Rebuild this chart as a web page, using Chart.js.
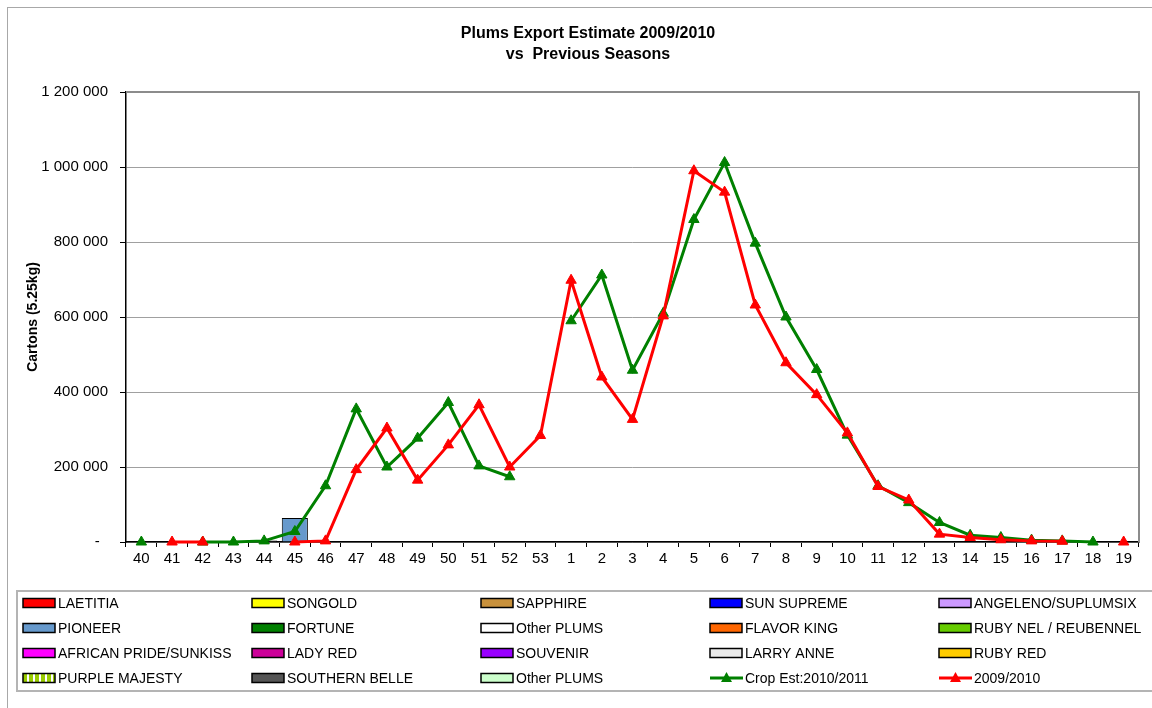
<!DOCTYPE html>
<html>
<head>
<meta charset="utf-8">
<script src="https://cdn.jsdelivr.net/npm/chart.js@4.4.1/dist/chart.umd.min.js"></script>
<style>
  html, body { margin: 0; padding: 0; background: #fff; }
  canvas { display: block; }
</style>
</head>
<body>
<canvas id="myChart" width="1152" height="708" style="width:1152px;height:708px"></canvas>
<script>
// week numbers on the x axis
var weeks = ['40', '41', '42', '43', '44', '45', '46', '47', '48', '49', '50', '51', '52', '53',
  '1', '2', '3', '4', '5', '6', '7', '8', '9', '10', '11', '12', '13', '14', '15', '16', '17', '18', '19'];

// Crop Est:2010/2011 (cartons)
var cropEst = [0, null, 0, 0, 3000, 28000, 150000, 355000, 200000, 277000, 372000, 203000, 174000, null,
  590000, 712000, 458000, 610000, 860000, 1012000, 797000, 600000, 460000, 285000, 150000, 105000,
  52000, 18000, 12000, 5000, 3000, 0, null];

// 2009/2010 (cartons)
var season0910 = [null, 0, 0, null, null, 0, 3000, 193000, 304000, 165000, 259000, 366000, 200000, 284000,
  698000, 440000, 327000, 603000, 990000, 933000, 632000, 478000, 393000, 291000, 148000, 112000,
  21000, 12000, 6000, 3000, 2000, null, 0];

// variety bars (only two carry values)
var pioneer = [null, null, null, null, null, 64000, null, null, null, null, null, null, null, null,
  null, null, null, null, null, null, null, null, null, null, null, null, null, null, null, null, null, null, null];
var southernBelle = [null, null, null, null, 4000, null, null, null, null, null, null, null, null, null,
  null, null, null, null, null, null, null, null, null, null, null, null, null, null, null, null, null, null, null];

var varieties = ['LAETITIA', 'SONGOLD', 'SAPPHIRE', 'SUN SUPREME', 'ANGELENO/SUPLUMSIX',
  'PIONEER', 'FORTUNE', 'Other PLUMS', 'FLAVOR KING', 'RUBY NEL / REUBENNEL',
  'AFRICAN PRIDE/SUNKISS', 'LADY RED', 'SOUVENIR', 'LARRY ANNE', 'RUBY RED',
  'PURPLE MAJESTY', 'SOUTHERN BELLE', 'Other PLUMS'];
var varietyValues = { 'PIONEER': pioneer, 'SOUTHERN BELLE': southernBelle };

// purple majesty gets a striped fill
var pc = document.createElement('canvas');
pc.width = 6; pc.height = 10;
var pctx = pc.getContext('2d');
pctx.fillStyle = '#99cc00'; pctx.fillRect(0, 0, 6, 10);
pctx.fillStyle = '#ffffff'; pctx.fillRect(3, 0, 2, 10);
var stripes = pctx.createPattern(pc, 'repeat');

var varietyColors = ['#ff0000', '#ffff00', '#c8913c', '#0000ff', '#cc99ff',
  '#6699cc', '#008000', '#ffffff', '#ff6600', '#66cc00',
  '#ff00ff', '#cc0099', '#9900ff', '#eaeaea', '#ffcc00',
  stripes, '#555555', '#ccffcc'];

var FONT = '"Liberation Sans", Arial, sans-serif';

var datasets = varieties.map(function (name, i) {
  return {
    type: 'bar',
    label: name,
    data: varietyValues[name] || [],
    backgroundColor: varietyColors[i],
    borderColor: '#000',
    borderWidth: 1,
    barPercentage: 0.85,
    categoryPercentage: 1,
    stack: 'bars',
    order: 2
  };
});
datasets.push({
  type: 'line',
  label: 'Crop Est:2010/2011',
  data: cropEst,
  borderColor: '#008000',
  backgroundColor: '#008000',
  borderWidth: 3,
  pointStyle: 'triangle',
  pointRadius: 6,
  pointBorderWidth: 1,
  tension: 0,
  spanGaps: false,
  stack: 'l1',
  clip: 10,
  order: 1
});
datasets.push({
  type: 'line',
  label: '2009/2010',
  data: season0910,
  borderColor: '#ff0000',
  backgroundColor: '#ff0000',
  borderWidth: 3,
  pointStyle: 'triangle',
  pointRadius: 6,
  pointBorderWidth: 1,
  tension: 0,
  spanGaps: false,
  stack: 'l2',
  clip: 10,
  order: 0
});

function fmt(v) {
  if (v === 0) return '-  ';
  return String(v).replace(/\B(?=(\d{3})+(?!\d))/g, ' ');
}

var decor = {
  id: 'decor',
  beforeDraw: function (chart) {
    var c = chart.ctx;
    c.save();
    c.fillStyle = '#fff';
    c.fillRect(0, 0, chart.width, chart.height);
    c.strokeStyle = '#a8a8a8';
    c.lineWidth = 1;
    c.strokeRect(7.5, 7.5, 1300, 900);
    c.restore();
  },
  beforeDatasetsDraw: function (chart) {
    var a = chart.chartArea, c = chart.ctx;
    c.save();
    c.strokeStyle = '#8c8c8c';
    c.lineWidth = 2;
    c.beginPath();
    c.moveTo(a.left, a.top);
    c.lineTo(a.right, a.top);
    c.lineTo(a.right, a.bottom);
    c.stroke();
    c.restore();
  },
  afterDraw: function (chart) {
    var c = chart.ctx;
    c.save();
    // title
    c.fillStyle = '#000';
    c.textAlign = 'center';
    c.textBaseline = 'middle';
    c.font = 'bold 16px ' + FONT;
    c.fillText('Plums Export Estimate 2009/2010', 588, 34);
    c.fillText('vs  Previous Seasons', 588, 55);

    // legend box
    c.strokeStyle = '#b4b4b4';
    c.lineWidth = 2;
    c.strokeRect(17, 591, 1160, 100);
    c.font = '14px ' + FONT;
    c.textAlign = 'left';
    chart.data.datasets.forEach(function (ds, i) {
      var col = i % 5, row = Math.floor(i / 5);
      var x = 23 + 229 * col, y = 603 + 25 * row;
      if (ds.type === 'line') {
        c.strokeStyle = ds.borderColor;
        c.lineWidth = 3;
        c.beginPath();
        c.moveTo(x, y); c.lineTo(x + 33, y);
        c.stroke();
        c.fillStyle = ds.borderColor;
        c.beginPath();
        c.moveTo(x + 16.5, y - 6); c.lineTo(x + 22, y + 4); c.lineTo(x + 11, y + 4);
        c.closePath();
        c.fill();
      } else {
        c.fillStyle = ds.backgroundColor;
        c.fillRect(x, y - 4.5, 32, 9);
        c.strokeStyle = '#000';
        c.lineWidth = 1.5;
        c.strokeRect(x, y - 4.5, 32, 9);
      }
      c.fillStyle = '#000';
      c.fillText(ds.label, x + 35, y + 1);
    });
    c.restore();
  }
};

var ctx = document.getElementById('myChart').getContext('2d');
var chart = new Chart(ctx, {
  data: { labels: weeks, datasets: datasets },
  options: {
    responsive: false,
    animation: false,
    devicePixelRatio: 1,
    layout: { padding: { left: 0, top: 92, right: 13, bottom: 0 } },
    plugins: {
      legend: { display: false },
      title: { display: false },
      tooltip: { enabled: false }
    },
    scales: {
      x: {
        stacked: true,
        offset: true,
        grid: { display: true, drawOnChartArea: false, offset: true, tickLength: 5, tickColor: '#000' },
        border: { color: '#000', width: 1.5 },
        ticks: { color: '#000', font: { family: FONT, size: 15 }, padding: 3, maxRotation: 0, autoSkip: false },
        afterFit: function (s) { s.height = 166; }
      },
      y: {
        stacked: true,
        min: 0,
        max: 1200000,
        grid: { color: '#a0a0a0', lineWidth: 1, tickLength: 6, tickColor: '#000' },
        border: { color: '#000', width: 1.5 },
        ticks: { stepSize: 200000, color: '#000', font: { family: FONT, size: 15 }, padding: 12, callback: fmt },
        title: { display: true, text: 'Cartons (5.25kg)', color: '#000', font: { family: FONT, size: 14, weight: 'bold' }, padding: { top: 25, bottom: 0 } },
        afterFit: function (s) { s.width = 126; }
      }
    }
  },
  plugins: [decor]
});
</script>
</body>
</html>
